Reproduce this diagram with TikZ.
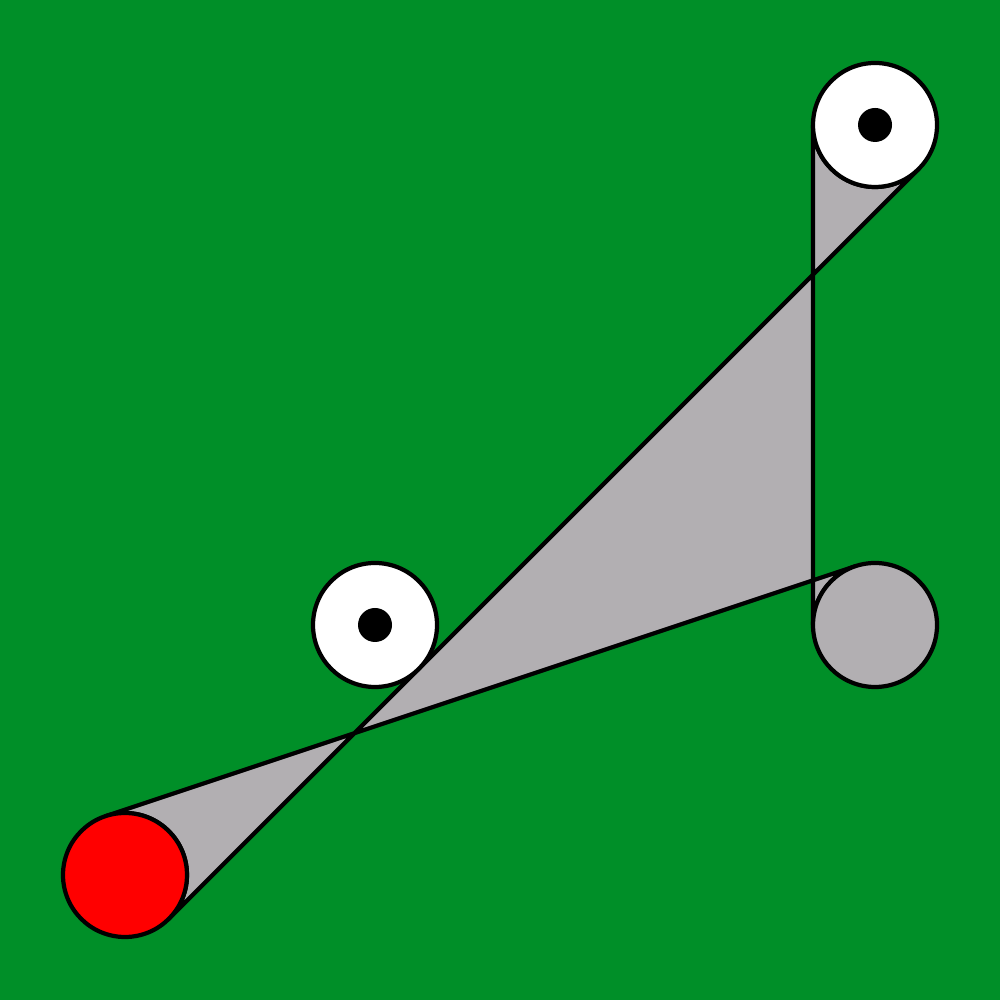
\documentclass[tikz,border=0pt]{standalone}
\usetikzlibrary{calc}
\definecolor{bggreen}{RGB}{0,143,40}
\definecolor{beltgray}{RGB}{178,175,178}
\definecolor{pinred}{RGB}{255,0,0}
\begin{document}
\begin{tikzpicture}[
  pulley/.style={circle,draw=black,line width=1.2pt,minimum size=1.24cm,inner sep=0pt,outer sep=0pt},
  hub/.style={circle,fill=black,minimum size=0.34cm,inner sep=0pt},
  belt/.style={fill=beltgray,draw=black,line width=1.2pt,line join=round}
]
\fill[bggreen] (0,0) rectangle (10,10);
\useasboundingbox (0,0) rectangle (10,10);
\coordinate (Rc) at (1.25,1.25);
\coordinate (Gc) at (8.75,3.75);
\coordinate (Tc) at (8.75,8.75);
\coordinate (Mc) at (3.75,3.75);
% belt
\draw[belt] ($(Rc)+(108.43:0.62)$) -- ($(Gc)+(108.43:0.62)$)
  arc[start angle=108.43,end angle=180,radius=0.62]
  -- ($(Tc)+(180:0.62)$)
  arc[start angle=180,end angle=315,radius=0.62]
  -- ($(Rc)+(-45:0.62)$)
  arc[start angle=-45,end angle=108.43,radius=0.62] -- cycle;
% pulleys
\node[pulley,fill=pinred] (R) at (Rc) {};
\node[pulley,fill=beltgray] (G) at (Gc) {};
\node[pulley,fill=white] (T) at (Tc) {};
\node[pulley,fill=white] (M) at (Mc) {};
\node[hub] (Th) at (Tc) {};
\node[hub] (Mh) at (Mc) {};
\end{tikzpicture}
\end{document}
